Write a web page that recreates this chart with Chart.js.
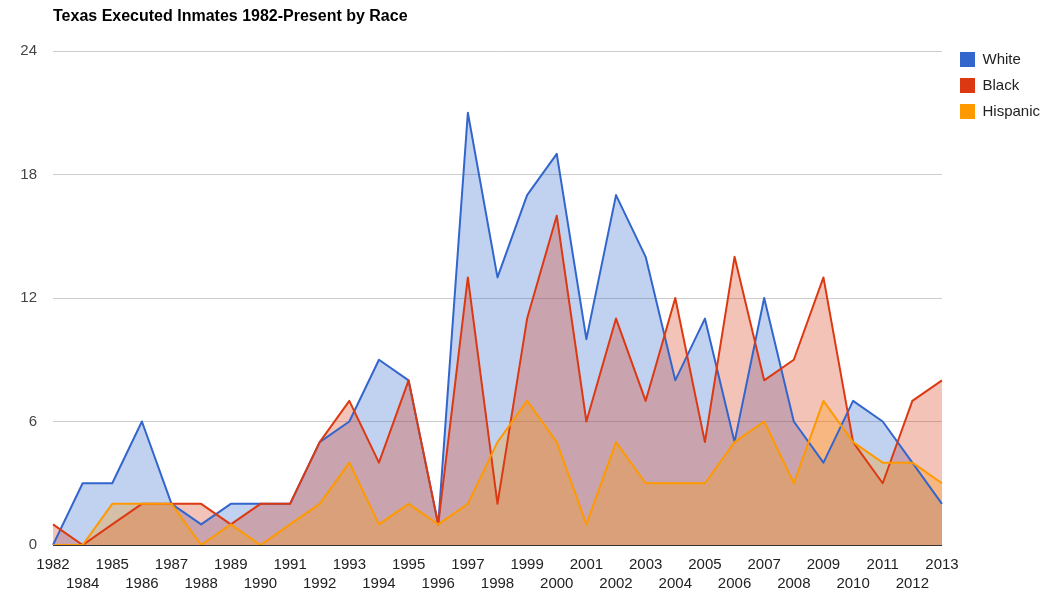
<!DOCTYPE html>
<html lang="en">
<head>
    <meta charset="UTF-8">
    <title>Texas Executed Inmates 1982-Present by Race</title>
    <script src="https://cdn.jsdelivr.net/npm/chart.js"></script>
    <style>
        html, body {
            margin: 0;
            padding: 0;
            background: #fff;
        }
        .chart-container {
            position: relative;
            width: 1056px;
            height: 605px;
        }
    </style>
</head>
<body>

    <div class="chart-container">
        <canvas id="raceChart"></canvas>
    </div>

    <script>
        const years = ["1982", "1984", "1985", "1986", "1987", "1988", "1989", "1990", "1991", "1992",
                       "1993", "1994", "1995", "1996", "1997", "1998", "1999", "2000", "2001", "2002",
                       "2003", "2004", "2005", "2006", "2007", "2008", "2009", "2010", "2011", "2012", "2013"];

        const white    = [0, 3, 3, 6, 2, 1, 2, 2, 2, 5, 6, 9, 8, 1, 21, 13, 17, 19, 10, 17, 14, 8, 11, 5, 12, 6, 4, 7, 6, 4, 2];
        const black    = [1, 0, 1, 2, 2, 2, 1, 2, 2, 5, 7, 4, 8, 1, 13, 2, 11, 16, 6, 11, 7, 12, 5, 14, 8, 9, 13, 5, 3, 7, 8];
        const hispanic = [0, 0, 2, 2, 2, 0, 1, 0, 1, 2, 4, 1, 2, 1, 2, 5, 7, 5, 1, 5, 3, 3, 3, 5, 6, 3, 7, 5, 4, 4, 3];

        const yTicks = [0, 6, 12, 18, 24];

        const FONT = "Arial, 'Liberation Sans', sans-serif";

        // alternate the year labels on two rows like the original
        const labels = years.map((y, i) => i % 2 === 0 ? [y, ""] : ["", y]);

        // title drawn over the left edge of the plot area
        const titlePlugin = {
            id: "leftTitle",
            afterLayout(chart) {
                // nudge the legend so it sits next to the plot like the original
                chart.legend.left += 7;
                chart.legend.right += 7;
                chart.legend.top -= 10;
            },
            afterDraw(chart) {
                const ctx = chart.ctx;
                ctx.save();
                ctx.font = "bold 16px " + FONT;
                ctx.fillStyle = "#000";
                ctx.textBaseline = "middle";
                ctx.fillText("Texas Executed Inmates 1982-Present by Race", chart.chartArea.left, 17);
                ctx.restore();
            }
        };

        function series(label, data, color, fill) {
            return {
                label: label,
                data: data,
                borderColor: color,
                backgroundColor: fill,
                borderWidth: 2,
                borderJoinStyle: "round",
                pointRadius: 0,
                fill: "origin",
                tension: 0
            };
        }

        const ctx = document.getElementById("raceChart").getContext("2d");

        new Chart(ctx, {
            type: "line",
            data: {
                labels: labels,
                // reversed so White is drawn first, Hispanic on top
                datasets: [
                    series("Hispanic", hispanic, "#FF9900", "rgba(255,153,0,0.3)"),
                    series("Black", black, "#DC3912", "rgba(220,57,18,0.3)"),
                    series("White", white, "#3366CC", "rgba(51,102,204,0.3)")
                ]
            },
            options: {
                responsive: true,
                maintainAspectRatio: false,
                animation: false,
                layout: {
                    padding: { top: 51, right: 13, bottom: 0, left: 0 }
                },
                scales: {
                    x: {
                        grid: { display: false, drawTicks: false },
                        border: { color: "#333", width: 1 },
                        ticks: {
                            autoSkip: false,
                            maxRotation: 0,
                            padding: 10,
                            color: "#222",
                            font: { family: FONT, size: 15, lineHeight: 1.27 }
                        },
                        afterFit(scale) { scale.height = 60; }
                    },
                    y: {
                        min: 0,
                        max: 24,
                        afterBuildTicks(scale) {
                            scale.ticks = yTicks.map(v => ({ value: v }));
                        },
                        grid: {
                            drawTicks: false,
                            color: ctx => ctx.tick && ctx.tick.value === 0 ? "#333" : "#ccc"
                        },
                        border: { display: false },
                        ticks: {
                            padding: 16,
                            color: "#444",
                            font: { family: FONT, size: 15 }
                        },
                        afterFit(scale) { scale.width = 53; }
                    }
                },
                plugins: {
                    // all fills first, then all lines on top
                    filler: { drawTime: "beforeDatasetsDraw" },
                    title: { display: false },
                    tooltip: { enabled: false },
                    legend: {
                        position: "right",
                        align: "start",
                        reverse: true,
                        labels: {
                            boxWidth: 15,
                            boxHeight: 15,
                            padding: 11,
                            color: "#222",
                            font: { family: FONT, size: 15 },
                            generateLabels(chart) {
                                return chart.data.datasets.map((ds, i) => ({
                                    text: ds.label,
                                    fillStyle: ds.borderColor,
                                    strokeStyle: ds.borderColor,
                                    lineWidth: 0,
                                    datasetIndex: i,
                                    fontColor: "#222"
                                }));
                            }
                        }
                    }
                }
            },
            plugins: [titlePlugin]
        });
    </script>

</body>
</html>
